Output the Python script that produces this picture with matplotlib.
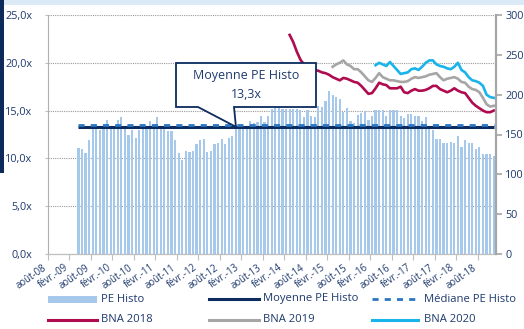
import numpy as np
import pandas as pd
import matplotlib
matplotlib.use("Agg")
import matplotlib.pyplot as plt
import matplotlib.transforms as mtransforms
from matplotlib.patches import Polygon, Rectangle
from matplotlib.lines import Line2D

plt.rcParams["font.family"] = ["Open Sans", "DejaVu Sans"]

# ---- data -------------------------------------------------------------
months = pd.period_range("2008-08", "2018-12", freq="M")

xtick_labels = ["août-08", "févr.-09", "août-09", "févr.-10", "août-10",
                "févr.-11", "août-11", "févr.-12", "août-12", "févr.-13",
                "août-13", "févr.-14", "août-14", "févr.-15", "août-15",
                "févr.-16", "août-16", "févr.-17", "août-17", "févr.-18",
                "août-18"]

pe_start = "2009-04"
pe_histo = [11.1, 10.95, 10.6, 11.9, 13.3, 13.6, 13.0, 13.2, 14.0, 13.2,
            13.3, 14.0, 14.3, 13.3, 12.4, 13.0, 12.1, 13.0, 13.5, 13.3,
            13.9, 13.3, 14.3, 13.3, 13.2, 12.9, 12.9, 11.9, 10.6, 9.8,
            10.8, 10.7, 10.8, 11.5, 11.9, 12.0, 10.7, 10.8, 11.5, 11.6,
            12.0, 11.5, 12.1, 12.3, 13.3, 13.4, 13.4, 13.4, 13.9, 13.7,
            13.8, 14.4, 13.8, 14.4, 15.2, 15.4, 15.4, 15.2, 15.2, 15.2,
            15.2, 15.2, 15.1, 14.3, 15.1, 14.4, 14.3, 15.5, 15.4, 16.0,
            17.0, 16.6, 16.4, 16.2, 14.9, 15.3, 13.9, 13.7, 14.5, 14.7,
            15.0, 14.0, 14.4, 15.1, 15.1, 15.1, 14.4, 15.1, 15.1, 15.1,
            14.4, 14.2, 14.6, 14.6, 14.4, 14.4, 13.9, 14.3, 13.3, 13.0,
            12.0, 12.0, 11.6, 11.6, 11.75, 11.6, 12.3, 11.2, 11.9, 11.6,
            11.6, 10.95, 11.2, 10.5, 10.5, 10.5, 10.2]

pe_mean = 13.3
pe_median = 13.45

bna2018_start = "2014-03"
bna2018 = [275, 266, 254, 244, 238, 235, 232, 231, 230, 228,
           227, 225, 222, 220, 218, 221, 220, 218, 216, 215,
           211, 206, 201, 202, 208, 215, 213, 212, 208, 208,
           208, 210, 203, 202, 205, 207, 205, 205, 206, 208,
           211, 211, 207, 205, 203, 205, 208, 205, 203, 202,
           196, 190, 186, 183, 180, 178, 178, 180]

bna2019_start = "2015-03"
bna2019 = [235, 238, 240, 243, 238, 236, 232, 232, 228, 223,
           218, 216, 221, 227, 222, 220, 218, 218, 217, 216,
           216, 217, 220, 222, 221, 222, 223, 225, 226, 227,
           222, 218, 220, 221, 222, 220, 216, 215, 210, 207,
           206, 203, 196, 188, 185, 186]

bna2020_start = "2016-03"
bna2020 = [237, 240, 238, 236, 241, 236, 231, 226, 227, 228,
           232, 233, 231, 235, 240, 243, 243, 238, 236, 235,
           233, 232, 235, 240, 231, 228, 222, 218, 217, 215,
           211, 200, 197, 196]

callout_month = "2012-12"

# ---- styles -----------------------------------------------------------
NAVY_TXT = "#1f3a6e"
BAR = "#a6c8eb"
MEAN = "#0c2b5e"
MEDIAN = "#2a76c2"
C2018 = "#b00a50"
C2019 = "#a6a6a6"
C2020 = "#18b4ea"
GRID = "#9a9a9a"

W, H = 524, 329


def idx(start, n):
    i0 = months.get_loc(pd.Period(start, "M"))
    return np.arange(i0, i0 + n)


def fx(px):
    return px / W


def fy(py):
    return 1 - py / H


fig = plt.figure(figsize=(W / 100, H / 100), dpi=100)
fig.patch.set_facecolor("white")

ax = fig.add_axes([fx(48), fy(254), (495.5 - 48) / W, (254 - 15) / H])
ax2 = ax.twinx()

# bars
pe_x = idx(pe_start, len(pe_histo))
ax.bar(pe_x, pe_histo, width=0.62, color=BAR, zorder=2, linewidth=0)

# mean / median
ax.plot(pe_x, [pe_mean] * len(pe_x), color=MEAN, lw=2.2, zorder=3,
        solid_capstyle="butt")
ax.plot(pe_x, [pe_median] * len(pe_x), color=MEDIAN, lw=2.0, zorder=4,
        linestyle=(0, (2.2, 2.2)))

ax.set_xlim(-0.5, len(months) - 0.5)
ax.set_ylim(0, 25)
yt = np.arange(0, 26, 5)
ax.set_yticks(yt)
ax.set_yticklabels([f"{v:.1f}x".replace(".", ",") for v in yt],
                   color=NAVY_TXT, fontsize=7.8)
ax.tick_params(axis="y", length=2, color="#bfbfbf", pad=9)
ax.yaxis.grid(True, linestyle=(0, (1, 1)), color=GRID, lw=0.8, zorder=0)
ax.set_axisbelow(True)

xt = np.arange(0, len(xtick_labels)) * 6 - 0.5
ax.set_xticks(xt)
ax.set_xticklabels(xtick_labels, rotation=35, ha="right",
                   rotation_mode="anchor", color=NAVY_TXT, fontsize=6.9)
ax.tick_params(axis="x", length=4, color="#bfbfbf", width=0.8, pad=2)
offset = mtransforms.ScaledTranslation(-4 / 72, 0, fig.dpi_scale_trans)
for lab in ax.get_xticklabels():
    lab.set_transform(lab.get_transform() + offset)

for s in ("top", "right"):
    ax.spines[s].set_visible(False)
ax.spines["left"].set_color("#b0b0b0")
ax.spines["left"].set_linestyle((0, (1, 1)))
ax.spines["left"].set_linewidth(0.8)
ax.spines["bottom"].set_color("#bfbfbf")
ax.spines["bottom"].set_linewidth(0.9)

# BNA lines on secondary axis
ax2.plot(idx(bna2018_start, len(bna2018)), bna2018, color=C2018, lw=1.9)
ax2.plot(idx(bna2019_start, len(bna2019)), bna2019, color=C2019, lw=1.9)
ax2.plot(idx(bna2020_start, len(bna2020)), bna2020, color=C2020, lw=1.9)
ax2.set_ylim(0, 300)
ax2.set_yticks(np.arange(0, 301, 50))
ax2.set_yticklabels([str(v) for v in range(0, 301, 50)], color=NAVY_TXT,
                    fontsize=7.8)
ax2.tick_params(axis="y", length=4, color="#a6a6a6", width=1.2, pad=3)
for s in ("top", "left", "bottom"):
    ax2.spines[s].set_visible(False)
ax2.spines["right"].set_color("#a6a6a6")
ax2.spines["right"].set_linewidth(1.6)

# frame decorations
fig.add_artist(Rectangle((fx(4), fy(5)), 1, 5 / H, transform=fig.transFigure,
                         color="#dce9f6", lw=0, zorder=0))
fig.add_artist(Rectangle((0, fy(173)), fx(3.5), 173 / H,
                         transform=fig.transFigure, color="#0d2a5a", lw=0))

# callout for the mean
fig.canvas.draw()
tip = ax.transData.transform((months.get_loc(pd.Period(callout_month, "M")),
                              pe_mean))
bx0, bx1, by0, by1 = 176, 316, H - 107, H - 63
verts = [(bx0, by0), (bx0, by1), (bx1, by1), (bx1, by0), (234, by0),
         (tip[0], tip[1]), (198, by0)]
fig.add_artist(Polygon(verts, closed=True, transform=mtransforms.IdentityTransform(),
                       facecolor="white", edgecolor=MEAN, lw=1.3, zorder=10))
cx = (bx0 + bx1) / 2
fig.text(fx(cx), fy(76), "Moyenne PE Histo", ha="center", va="center",
         color=NAVY_TXT, fontsize=9, zorder=11)
fig.text(fx(cx), fy(95), f"{pe_mean:.1f}x".replace(".", ","), ha="center",
         va="center", color=NAVY_TXT, fontsize=9, zorder=11)

# legend
r1, r2 = 299, 320
fig.add_artist(Rectangle((fx(48), fy(r1 + 3.5)), (97 - 48) / W, 7 / H,
                         transform=fig.transFigure, color=BAR, lw=0))
leg_items = [
    (209, 259, r1, dict(color=MEAN, lw=2.2)),
    (372, 418, r1, dict(color=MEDIAN, lw=2.0, linestyle=(0, (2.2, 2.2)))),
    (48, 97, r2, dict(color=C2018, lw=2.2)),
    (209, 259, r2, dict(color=C2019, lw=2.2)),
    (372, 418, r2, dict(color=C2020, lw=2.2)),
]
for x0, x1, yy, kw in leg_items:
    fig.add_artist(Line2D([fx(x0), fx(x1)], [fy(yy), fy(yy)],
                          transform=fig.transFigure, **kw))
leg_text = [(101, r1, "PE Histo"), (263, r1, "Moyenne PE Histo"),
            (424, r1, "Médiane PE Histo"), (101, r2, "BNA 2018"),
            (263, r2, "BNA 2019"), (424, r2, "BNA 2020")]
for x0, yy, t in leg_text:
    fig.text(fx(x0), fy(yy), t, ha="left", va="center", color=NAVY_TXT,
             fontsize=8.1)

fig.savefig("out.png", dpi=100)
